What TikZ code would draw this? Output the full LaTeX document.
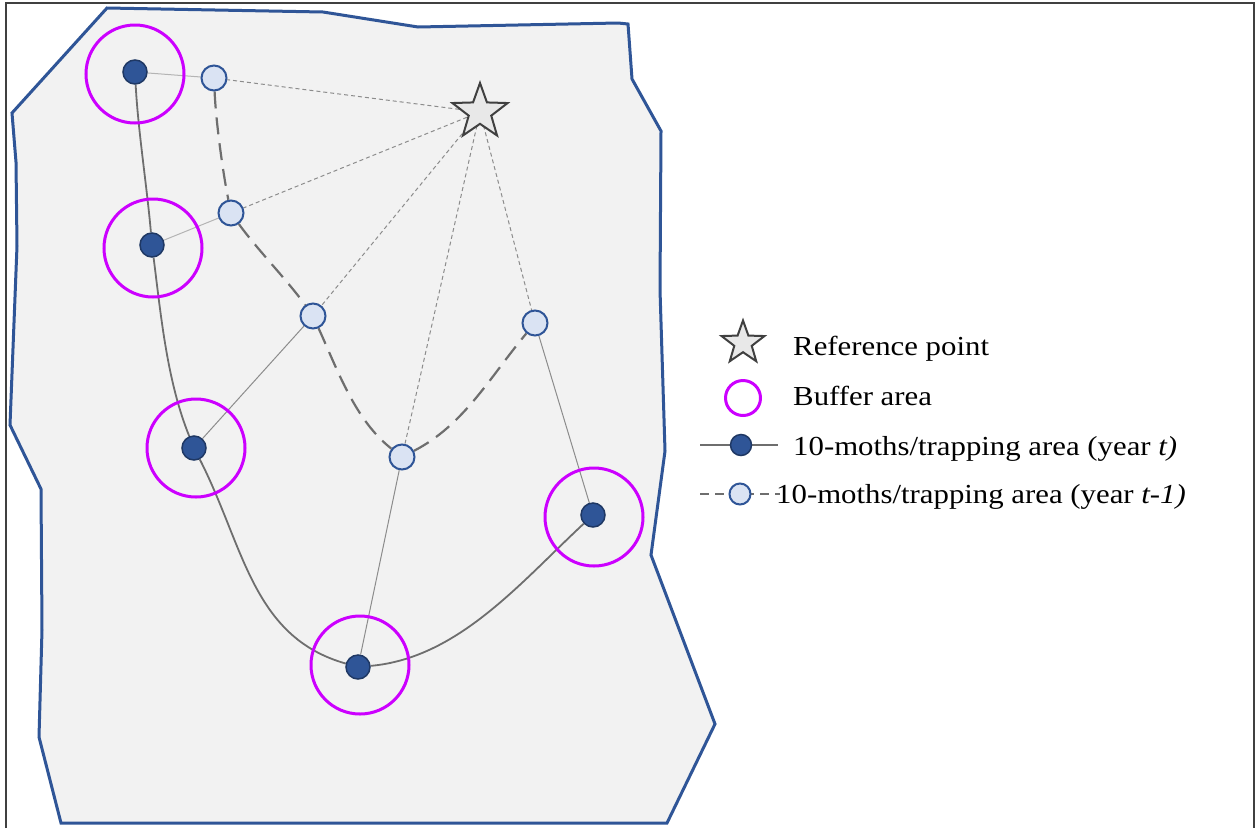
\documentclass[tikz,border=0pt]{standalone}
\usepackage{fontspec}
\setmainfont[FakeStretch=1.12]{Liberation Serif}
\usetikzlibrary{shapes.geometric}
\definecolor{edgeblue}{HTML}{2F5597}
\definecolor{darkblue}{HTML}{1F3864}
\definecolor{lightfill}{HTML}{DAE3F3}
\definecolor{areafill}{HTML}{F2F2F2}
\definecolor{ringmag}{RGB}{204,0,255}
\definecolor{linegray}{HTML}{6E6E6E}
\definecolor{thingray}{HTML}{8C8C8C}
\definecolor{palegray}{HTML}{B4B4B4}
\definecolor{starfill}{HTML}{E8E8E8}
\definecolor{stardraw}{HTML}{404040}
\pgfdeclarelayer{bg}\pgfdeclarelayer{lines}\pgfsetlayers{bg,lines,main}
\begin{document}
\begin{tikzpicture}[x=1pt,y=-1pt,
  nowyear/.style={circle,fill=edgeblue,draw=darkblue,line width=1.5pt,minimum size=24pt,inner sep=0pt},
  prevyear/.style={circle,fill=lightfill,draw=edgeblue,line width=2pt,minimum size=25pt,inner sep=0pt},
  buffer/.style={circle,draw=ringmag,line width=3pt,inner sep=0pt},
  refstar/.style={star,star points=5,star point ratio=2.45,fill=starfill,draw=stardraw,line width=2pt,inner sep=0pt},
  trackline/.style={draw=linegray,line width=1.8pt},
  prevtrack/.style={draw=linegray,line width=2.2pt,dash pattern=on 17pt off 9pt},
  raydash/.style={draw=thingray,line width=1pt,dash pattern=on 4pt off 3pt},
  linkline/.style={draw=thingray,line width=1pt},
  palelink/.style={draw=palegray,line width=1pt},
  legendtext/.style={anchor=base west,inner sep=0pt,font=\fontsize{27.5}{33}\selectfont},
  frameline/.style={draw=stardraw,line width=1.2pt}]
\useasboundingbox (0,0) rectangle (1257,828);

% area
\begin{pgfonlayer}{bg}
\fill[white] (0,0) rectangle (1257,828);
\draw[frameline] (6,828) -- (6,3) -- (1254,3) -- (1254,828);
\draw[draw=edgeblue,fill=areafill,line width=3pt]
  (107,8) -- (323,12) -- (418,27) -- (618,23) -- (628,24) -- (632,79) -- (661,131)
  -- (660,290) -- (665,451) -- (651,555) -- (715,724) -- (667,823) -- (61,823)
  -- (39,737) -- (42,630) -- (41,489) -- (10,425) -- (17,246) -- (16,162) -- (12,113) -- cycle;
\end{pgfonlayer}

% buffers
\node[buffer,minimum size=98pt] (b1) at (135,74) {};
\node[buffer,minimum size=98pt] (b2) at (153,248) {};
\node[buffer,minimum size=98pt] (b3) at (196,448) {};
\node[buffer,minimum size=98pt] (b4) at (360,665) {};
\node[buffer,minimum size=98pt] (b5) at (594,517) {};

% year t nodes
\node[nowyear] (n1) at (135,72) {};
\node[nowyear] (n2) at (152,245) {};
\node[nowyear] (n3) at (194,448) {};
\node[nowyear] (n4) at (358,667) {};
\node[nowyear] (n5) at (593,515) {};

% year t-1 nodes
\node[prevyear] (l1) at (214,78) {};
\node[prevyear] (l2) at (231,213) {};
\node[prevyear] (l3) at (313,316) {};
\node[prevyear] (l4) at (402,457) {};
\node[prevyear] (l5) at (535,323) {};

% reference point
\node[refstar,minimum size=58pt] (ref) at (480,112) {};

\begin{pgfonlayer}{lines}
\draw[trackline] (n1) .. controls +(3,58) and +(-5,-58) .. (n2)
  .. controls +(9,71) and +(-27,-67) .. (n3)
  .. controls +(50,98) and +(-106,-30) .. (n4)
  .. controls +(100,-9) and +(-73,68) .. (n5);
\draw[prevtrack] (l1) .. controls +(2,45) and +(-8,-40) .. (l2)
  .. controls +(25,35) and +(-25,-35) .. (l3)
  .. controls +(25,55) and +(-47,-37) .. (l4)
  .. controls +(62,-32) and +(-45,54) .. (l5);
\draw[palelink] (n1) -- (l1);
\draw[palelink] (n2) -- (l2);
\draw[linkline] (n3) -- (l3);
\draw[linkline] (n4) -- (l4);
\draw[linkline] (n5) -- (l5);
\draw[raydash] (ref.center) -- (l1);
\draw[raydash] (ref.center) -- (l2);
\draw[raydash] (ref.center) -- (l3);
\draw[raydash] (ref.center) -- (l4);
\draw[raydash] (ref.center) -- (l5);
% legend lines
\coordinate (kaL) at (700,445);
\coordinate (kaR) at (778,445);
\coordinate (kbL) at (700,494);
\coordinate (kbR) at (780,494);
\draw[trackline] (kaL) -- (kaR);
\draw[draw=linegray,line width=1.6pt,dash pattern=on 9pt off 6pt] (kbL) -- (kbR);
\end{pgfonlayer}

% legend
\node[refstar,minimum size=45pt] (kstar) at (743,343) {};
\node[buffer,minimum size=35pt] (kbuf) at (743,398) {};
\node[nowyear,minimum size=21pt] (kn) at (741,445) {};
\node[prevyear,minimum size=21pt] (kl) at (740,494) {};
\node[legendtext] (t1) at (793,355) {Reference point};
\node[legendtext] (t2) at (793,405) {Buffer area};
\node[legendtext] (t3) at (793,455) {10-moths/trapping area (year \textit{t)}};
\node[legendtext] (t4) at (776,503) {10-moths/trapping area (year \textit{t-1)}};
\end{tikzpicture}
\end{document}
